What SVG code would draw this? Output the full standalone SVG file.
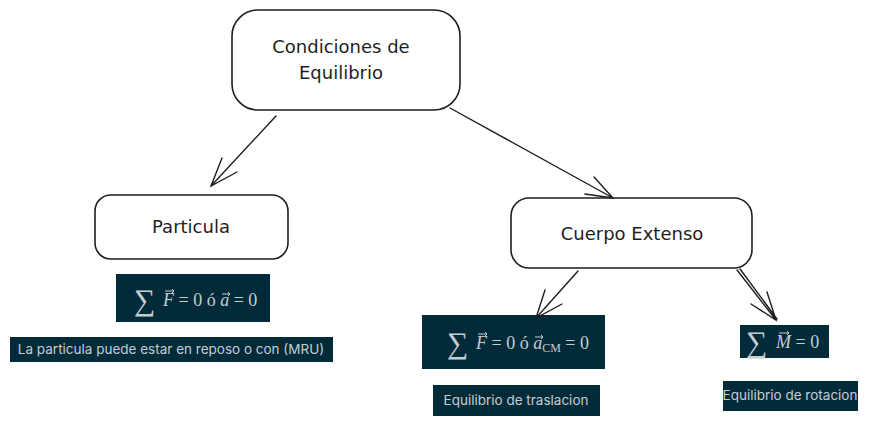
<svg xmlns="http://www.w3.org/2000/svg" width="869" height="428" viewBox="0 0 869 428">
<style>
.node{fill:#fff;stroke:#1e1e1e;stroke-width:1.6}
.hand{font-family:"DejaVu Sans",sans-serif;font-size:18px;fill:#1e1e1e;text-anchor:middle}
.dark{fill:#022b3a}
.lbl{font-family:Inter,"Liberation Sans",sans-serif;font-size:13.5px;fill:#c4cdd2;text-anchor:middle}
.math{font-family:"Liberation Serif",serif;font-size:18px;fill:#c4cdd2}
.sum{font-family:"Liberation Serif",serif;font-size:30px;fill:#c4cdd2}
.vec{stroke:#c4cdd2;stroke-width:1;fill:none}
.conn{stroke:#1e1e1e;stroke-width:1.4;fill:none;stroke-linecap:round}
</style>
<rect width="869" height="428" fill="#fff"/>
<g id="condiciones">
<rect class="node" x="232" y="10" width="228" height="100" rx="26"/>
<text class="hand" x="341" y="53">Condiciones de</text>
<text class="hand" x="341" y="79">Equilibrio</text>
</g>
<g id="particula">
<rect class="node" x="95" y="195" width="193" height="64" rx="16"/>
<text class="hand" x="191" y="233">Particula</text>
</g>
<g id="cuerpo">
<rect class="node" x="511" y="198" width="241" height="70" rx="18"/>
<text class="hand" x="632" y="240">Cuerpo Extenso</text>
</g>
<g id="formula-particula">
<rect class="dark" x="116" y="274" width="154" height="48"/>
<text class="sum" x="134" y="310">∑</text>
<text class="math" x="163" y="306"><tspan font-style="italic">F</tspan> = 0 ó <tspan font-style="italic">a</tspan> = 0</text>
<path class="vec" d="M165 291h9m-2-2l2 2l-2 2M222 294h8m-2-2l2 2l-2 2"/>
</g>
<g id="texto-particula">
<rect class="dark" x="10" y="337" width="323" height="25"/>
<text class="lbl" x="171" y="354">La particula puede estar en reposo o con (MRU)</text>
</g>
<g id="formula-traslacion">
<rect class="dark" x="422" y="315" width="183" height="54"/>
<text class="sum" x="447" y="353">∑</text>
<text class="math" x="476" y="349"><tspan font-style="italic">F</tspan> = 0 ó <tspan font-style="italic">a</tspan><tspan font-size="12" dy="3">CM</tspan><tspan dy="-3"> = 0</tspan></text>
<path class="vec" d="M478 334h9m-2-2l2 2l-2 2M535 337h8m-2-2l2 2l-2 2"/>
</g>
<g id="texto-traslacion">
<rect class="dark" x="433" y="385" width="167" height="31"/>
<text class="lbl" x="516" y="405">Equilibrio de traslacion</text>
</g>
<g id="formula-rotacion">
<rect class="dark" x="740" y="325" width="89" height="33"/>
<text class="sum" x="746" y="352">∑</text>
<text class="math" x="776" y="348"><tspan font-style="italic">M</tspan> = 0</text>
<path class="vec" d="M779 333h10m-2-2l2 2l-2 2"/>
</g>
<g id="texto-rotacion">
<rect class="dark" x="723" y="381" width="135" height="30"/>
<text class="lbl" x="790" y="400">Equilibrio de rotacion</text>
</g>
<g id="connectors">
<path class="conn" d="M276 116L211 186M222 158L211 186L237 172"/>
<path class="conn" d="M450 108L613 198M594 177L613 198L585 194"/>
<path class="conn" d="M578 271L536 318M545 290L536 318L562 304"/>
<path class="conn" d="M737 270L776 320M740 269L777 319M767 292L776 320L751 304"/>
</g>
</svg>
